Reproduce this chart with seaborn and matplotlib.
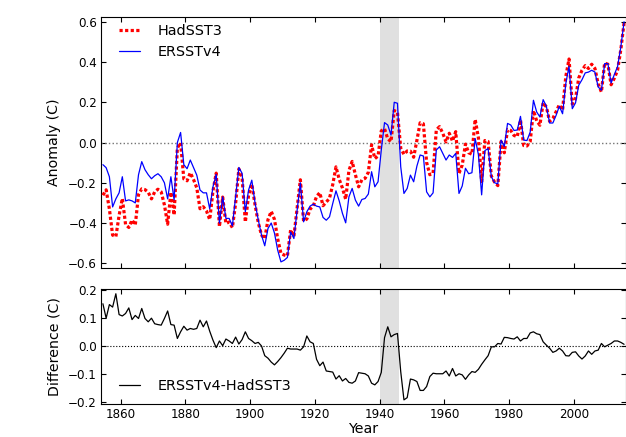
import numpy as np
import pandas as pd
import matplotlib
matplotlib.use('Agg')
import matplotlib.pyplot as plt
import seaborn as sns

# Anomalias anuales 1854-2015
years = np.arange(1854, 2016)

ersst = [
    -0.11, -0.125, -0.17, -0.32, -0.28, -0.25,
    -0.17, -0.29, -0.285, -0.29, -0.30, -0.16, -0.095, -0.135, -0.16, -0.18,
    -0.165, -0.155, -0.17, -0.20, -0.28, -0.17, -0.285, 0.0, 0.05, -0.11,
    -0.13, -0.087, -0.124, -0.162, -0.236, -0.25, -0.25, -0.33, -0.22, -0.158,
    -0.40, -0.27, -0.377, -0.377, -0.414, -0.27, -0.124, -0.153, -0.344, -0.236,
    -0.187, -0.30, -0.385, -0.46, -0.513, -0.427, -0.40, -0.45, -0.535, -0.593,
    -0.585, -0.571, -0.444, -0.477, -0.336, -0.2, -0.394, -0.344, -0.316, -0.306,
    -0.316, -0.32, -0.372, -0.386, -0.369, -0.303, -0.24, -0.29, -0.352, -0.399,
    -0.27, -0.228, -0.286, -0.316, -0.283, -0.278, -0.256, -0.145, -0.22, -0.195,
    -0.037, 0.099, 0.087, 0.037, 0.2, 0.195, -0.12, -0.253, -0.228, -0.162,
    -0.195, -0.117, -0.062, -0.067, -0.245, -0.27, -0.25, -0.037, -0.021, -0.054,
    -0.087, -0.062, -0.074, -0.054, -0.253, -0.216, -0.128, -0.155, -0.15, 0.02,
    -0.06, -0.26, -0.04, -0.03, -0.17, -0.2, -0.205, 0.012, -0.02, 0.095,
    0.087, 0.06, 0.062, 0.13, 0.012, 0.01, 0.052, 0.21, 0.152, 0.127,
    0.213, 0.18, 0.097, 0.097, 0.135, 0.18, 0.143, 0.293, 0.379, 0.168,
    0.197, 0.285, 0.312, 0.346, 0.35, 0.359, 0.35, 0.276, 0.26, 0.392,
    0.392, 0.296, 0.338, 0.378, 0.475, 0.6,
]

hadsst = [
    -0.262, -0.235, -0.33, -0.46, -0.468, -0.363,
    -0.278, -0.407, -0.422, -0.385, -0.41, -0.259, -0.23, -0.234, -0.247, -0.28,
    -0.245, -0.232, -0.245, -0.31, -0.406, -0.247, -0.36, -0.027, -0.001, -0.181,
    -0.19, -0.15, -0.184, -0.225, -0.329, -0.319, -0.34, -0.383, -0.241, -0.152,
    -0.418, -0.271, -0.402, -0.395, -0.423, -0.302, -0.131, -0.176, -0.395, -0.263,
    -0.206, -0.309, -0.398, -0.46, -0.478, -0.383, -0.342, -0.382, -0.479, -0.551,
    -0.559, -0.563, -0.433, -0.466, -0.325, -0.185, -0.391, -0.38, -0.331, -0.315,
    -0.268, -0.249, -0.314, -0.296, -0.277, -0.209, -0.121, -0.183, -0.226, -0.282,
    -0.139, -0.094, -0.16, -0.22, -0.185, -0.178, -0.148, -0.011, -0.08, -0.067,
    0.058, 0.069, 0.018, 0.004, 0.159, 0.15, -0.028, -0.059, -0.042, -0.043,
    -0.073, 0.011, 0.098, 0.093, -0.099, -0.16, -0.152, 0.063, 0.079, 0.046,
    0.003, 0.046, 0.007, 0.054, -0.153, -0.112, -0.008, -0.051, -0.058, 0.115,
    0.024, -0.194, 0.01, 0.005, -0.167, -0.197, -0.214, 0.005, -0.051, 0.065,
    0.06, 0.035, 0.029, 0.112, -0.015, -0.017, 0.005, 0.159, 0.108, 0.086,
    0.198, 0.177, 0.105, 0.12, 0.153, 0.188, 0.161, 0.328, 0.415, 0.191,
    0.218, 0.321, 0.359, 0.382, 0.368, 0.389, 0.368, 0.291, 0.251, 0.395,
    0.389, 0.287, 0.32, 0.36, 0.462, 0.594,
]

diferencia = [
    0.152, 0.10, 0.149, 0.14, 0.188, 0.113,
    0.108, 0.117, 0.137, 0.095, 0.11, 0.099, 0.135, 0.099, 0.087, 0.10,
    0.08, 0.077, 0.075, 0.099, 0.126, 0.077, 0.075, 0.027, 0.051, 0.071,
    0.057, 0.063, 0.06, 0.063, 0.093, 0.069, 0.09, 0.053, 0.021, -0.006,
    0.018, 0.001, 0.025, 0.018, 0.009, 0.032, 0.007, 0.023, 0.051, 0.027,
    0.019, 0.009, 0.013, 0.0, -0.035, -0.044, -0.058, -0.068, -0.056, -0.042,
    -0.026, -0.008, -0.011, -0.011, -0.011, -0.015, -0.003, 0.036, 0.015, 0.009,
    -0.048, -0.071, -0.058, -0.09, -0.092, -0.094, -0.119, -0.107, -0.126, -0.117,
    -0.131, -0.134, -0.126, -0.096, -0.098, -0.1, -0.108, -0.134, -0.14, -0.128,
    -0.095, 0.03, 0.069, 0.033, 0.041, 0.045, -0.092, -0.194, -0.186, -0.119,
    -0.122, -0.128, -0.16, -0.16, -0.146, -0.11, -0.098, -0.1, -0.1, -0.1,
    -0.09, -0.108, -0.081, -0.108, -0.1, -0.104, -0.12, -0.104, -0.092, -0.095,
    -0.084, -0.066, -0.05, -0.035, -0.003, -0.003, 0.009, 0.007, 0.031, 0.03,
    0.027, 0.025, 0.033, 0.018, 0.027, 0.027, 0.047, 0.051, 0.044, 0.041,
    0.015, 0.003, -0.008, -0.023, -0.018, -0.008, -0.018, -0.035, -0.036, -0.023,
    -0.021, -0.036, -0.047, -0.036, -0.018, -0.03, -0.018, -0.015, 0.009, -0.003,
    0.003, 0.009, 0.018, 0.018, 0.013, 0.006,
]

df = pd.DataFrame({'year': years + 0.5, 'HadSST3': hadsst,
                   'ERSSTv4': ersst, 'dif': diferencia})

sns.set_style('ticks', {'xtick.direction': 'in', 'ytick.direction': 'in',
                        'xtick.top': True, 'ytick.right': True,
                        'axes.edgecolor': 'black', 'text.color': 'black',
                        'axes.labelcolor': 'black', 'xtick.color': 'black',
                        'ytick.color': 'black'})
plt.rcParams['font.family'] = ['DejaVu Sans']
plt.rcParams['axes.linewidth'] = 0.8

fig = plt.figure(figsize=(6.26, 4.37), dpi=100)
ax1 = fig.add_axes([0.1618, 0.386, 0.8377, 0.5757])
ax2 = fig.add_axes([0.1618, 0.0748, 0.8377, 0.2638])

# Panel superior
ax1.axvspan(1940, 1946, color='0.88', lw=0, zorder=0)
ax1.axhline(0, color='0.45', ls=':', lw=1.0, zorder=1)
sns.lineplot(data=df, x='year', y='HadSST3', ax=ax1, color='red', lw=2.3,
             linestyle=(0, (1, 0.75)), label='HadSST3', zorder=3)
sns.lineplot(data=df, x='year', y='ERSSTv4', ax=ax1, color='blue', lw=0.9,
             label='ERSSTv4', zorder=4)
ax1.set_xlim(1854, 2016)
ax1.set_ylim(-0.625, 0.625)
ax1.set_yticks([-0.6, -0.4, -0.2, 0.0, 0.2, 0.4, 0.6])
ax1.set_xticks(np.arange(1860, 2001, 20))
ax1.tick_params(labelbottom=False)
ax1.set_xlabel('')
ax1.set_ylabel('Anomaly (C)', fontsize=10.2, labelpad=5)
ax1.legend(loc='upper left', bbox_to_anchor=(0.034, 0.97), borderaxespad=0,
           borderpad=0, frameon=False, fontsize=10.4, handlelength=1.45,
           handletextpad=1.25, labelspacing=0.45)

# Panel inferior
ax2.axvspan(1940, 1946, color='0.88', lw=0, zorder=0)
ax2.axhline(0, color='black', ls=':', lw=0.8, zorder=1)
sns.lineplot(data=df, x='year', y='dif', ax=ax2, color='black', lw=0.9,
             label='ERSSTv4-HadSST3', zorder=3)
ax2.set_xlim(1854, 2016)
ax2.set_ylim(-0.21, 0.205)
ax2.set_yticks([-0.2, -0.1, 0.0, 0.1, 0.2])
ax2.set_xticks(np.arange(1860, 2001, 20))
ax2.set_xlabel('Year', fontsize=10.2, labelpad=0.5)
ax2.set_ylabel('Difference (C)', fontsize=10.2, labelpad=5)
ax2.legend(loc='lower left', bbox_to_anchor=(0.034, 0.10), borderaxespad=0,
           borderpad=0, frameon=False, fontsize=10.4, handlelength=1.45,
           handletextpad=1.25)

for ax in (ax1, ax2):
    ax.tick_params(which='major', length=3.6, width=0.8, labelsize=8.6, pad=3)

fig.savefig('out.png', dpi=100)
